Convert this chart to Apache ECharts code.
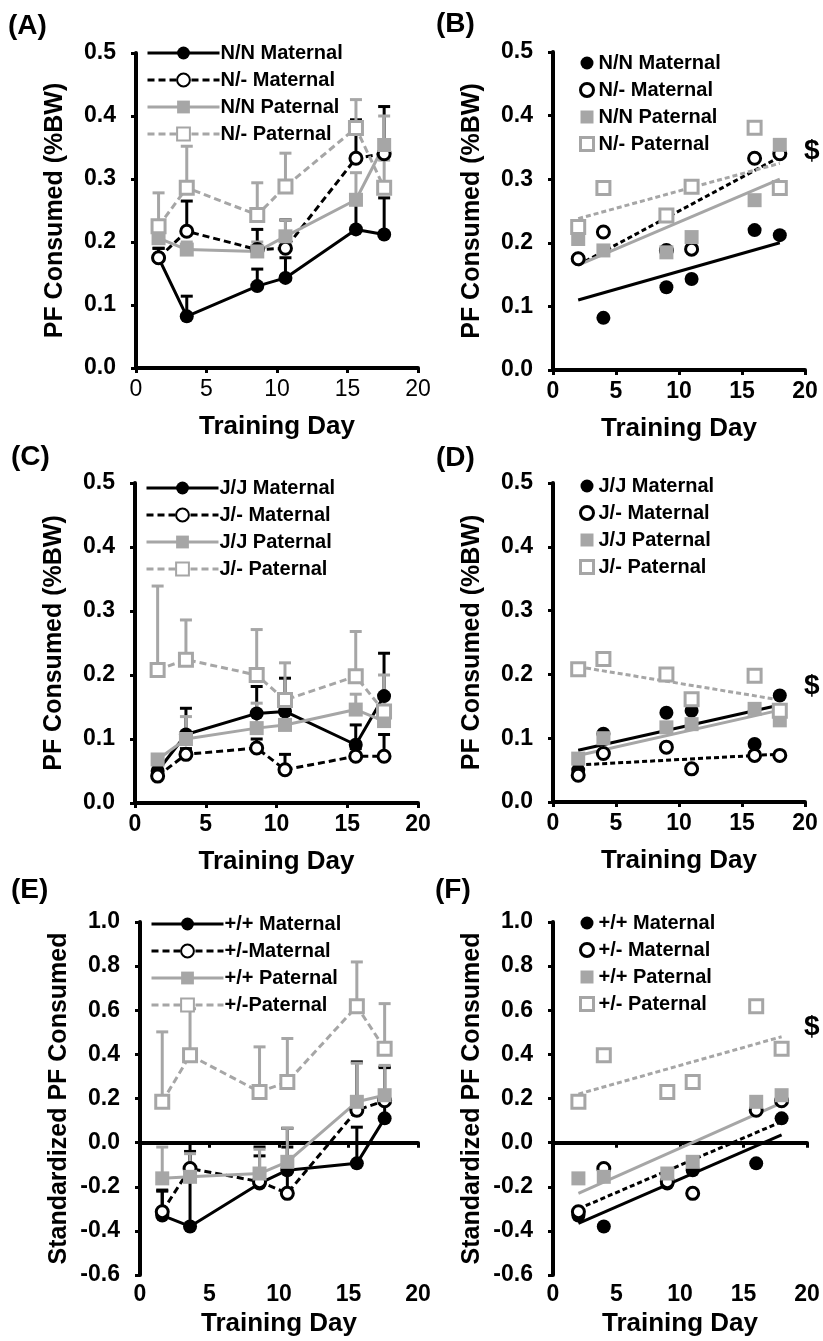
<!DOCTYPE html>
<html>
<head>
<meta charset="utf-8">
<script src="https://cdn.jsdelivr.net/npm/echarts@6/dist/echarts.min.js"></script>
<style>
	html, body { margin: 0; padding: 0; background: #fff; }
	#chart { width: 823px; height: 1341px; }
</style>
</head>
<body>
<div id="chart"></div>
<script type="text/javascript">
	// training days (left panels are plotted slightly offset, as in the original)
	var daysL = [1.6, 3.6, 8.6, 10.6, 15.6, 17.6];
	var daysR = [2, 4, 9, 11, 16, 18];
	var fitDays = [2, 18];

	// (A)/(B) N allele
	var nnMat = [0.175, 0.082, 0.13, 0.143, 0.22, 0.212];
	var nnMatErr = [0.19, 0.114, 0.157, 0.175, 0.26, 0.27];
	var nhMat = [0.175, 0.217, 0.188, 0.19, 0.333, 0.34];
	var nhMatErr = [0.19, 0.265, 0.22, 0.235, 0.394, 0.415];
	var nnPat = [0.206, 0.188, 0.185, 0.209, 0.267, 0.354];
	var nnPatErr = [0.23, 0.2, 0.2, 0.235, 0.31, 0.4];
	var nhPat = [0.225, 0.286, 0.243, 0.288, 0.381, 0.286];
	var nhPatErr = [0.278, 0.352, 0.294, 0.341, 0.426, 0.33];
	var nnMatFit = [0.11, 0.2];
	var nhMatFit = [0.165, 0.335];
	var nnPatFit = [0.165, 0.3];
	var nhPatFit = [0.238, 0.325];

	// (C)/(D) J allele
	var jjMat = [0.05, 0.107, 0.14, 0.143, 0.091, 0.167];
	var jjMatErr = [0.06, 0.148, 0.182, 0.195, 0.122, 0.234];
	var jhMat = [0.042, 0.076, 0.086, 0.052, 0.073, 0.073];
	var jhMatErr = [0.05, 0.085, 0.1, 0.076, 0.085, 0.107];
	var jjPat = [0.068, 0.1, 0.117, 0.122, 0.146, 0.128];
	var jjPatErr = [0.075, 0.135, 0.156, 0.159, 0.17, 0.17];
	var jhPat = [0.208, 0.224, 0.2, 0.161, 0.198, 0.143];
	var jhPatErr = [0.339, 0.286, 0.271, 0.219, 0.268, 0.2];
	var jjMatFit = [0.081, 0.152];
	var jhMatFit = [0.058, 0.075];
	var jjPatFit = [0.073, 0.144];
	var jhPatFit = [0.212, 0.16];

	// (E)/(F) standardized
	var wwMat = [-0.33, -0.38, -0.185, -0.125, -0.094, 0.11];
	var wwMatErr = [-0.22, 0.0, -0.06, -0.02, 0.07, 0.34];
	var whMat = [-0.313, -0.117, -0.177, -0.23, 0.147, 0.19];
	var whMatErr = [-0.215, -0.04, -0.02, 0.065, 0.366, 0.343];
	var wwPat = [-0.162, -0.155, -0.14, -0.087, 0.185, 0.215];
	var wwPatErr = [-0.02, -0.05, -0.03, 0.065, 0.36, 0.35];
	var whPat = [0.185, 0.396, 0.23, 0.275, 0.618, 0.426];
	var whPatErr = [0.502, 0.607, 0.434, 0.472, 0.819, 0.63];
	var wwMatFit = [-0.366, 0.035];
	var whMatFit = [-0.3, 0.095];
	var wwPatFit = [-0.23, 0.18];
	var whPatFit = [0.22, 0.48];

	var FONT = 'Liberation Sans';
	var BLACK = '#000';
	var GREY = '#a6a6a6';
	var DASH = [7, 4];

	// marker styles: filled circle, open circle, filled square, open square
	var marks = [
		{symbol: 'circle', size: 14, fill: BLACK, stroke: BLACK, dash: 'solid', color: BLACK},
		{symbol: 'circle', size: 12, fill: '#fff', stroke: BLACK, dash: DASH, color: BLACK},
		{symbol: 'rect', size: 14, fill: GREY, stroke: GREY, dash: 'solid', color: GREY},
		{symbol: 'rect', size: 13, fill: '#fff', stroke: GREY, dash: DASH, color: GREY}
	];

	function pairs(xs, ys) {
		return xs.map(function(x, i){ return [x, ys[i]]; });
	}

	function errSeries(gi, xs, ys, tops, color) {
		return {
			type: 'custom',
			xAxisIndex: gi, yAxisIndex: gi,
			z: 1,
			silent: true,
			data: xs.map(function(x, i){ return [x, ys[i], tops[i]]; }),
			encode: {x: 0, y: [1, 2]},
			renderItem: function(params, api) {
				var p0 = api.coord([api.value(0), api.value(1)]);
				var p1 = api.coord([api.value(0), api.value(2)]);
				return {
					type: 'group',
					children: [
						{type: 'line', shape: {x1: p0[0], y1: p0[1], x2: p1[0], y2: p1[1]}, style: {stroke: color, lineWidth: 3}},
						{type: 'line', shape: {x1: p1[0] - 6, y1: p1[1], x2: p1[0] + 6, y2: p1[1]}, style: {stroke: color, lineWidth: 3}}
					]
				};
			}
		};
	}

	function lineSeries(name, gi, xs, ys, m) {
		return {
			name: name, type: 'line',
			xAxisIndex: gi, yAxisIndex: gi,
			z: 3,
			data: pairs(xs, ys),
			symbol: m.symbol, symbolSize: m.size,
			lineStyle: {color: m.color, width: 3, type: m.dash},
			itemStyle: {color: m.fill, borderColor: m.stroke, borderWidth: m.fill === '#fff' ? 3 : 0},
			animation: false
		};
	}

	function scatterSeries(name, gi, xs, ys, m) {
		return {
			name: name, type: 'scatter',
			xAxisIndex: gi, yAxisIndex: gi,
			z: 3,
			data: pairs(xs, ys),
			symbol: m.symbol, symbolSize: m.size,
			itemStyle: {color: m.fill, borderColor: m.stroke, borderWidth: m.fill === '#fff' ? 3 : 0, opacity: 1},
			animation: false
		};
	}

	function fitSeries(gi, ys, m) {
		return {
			type: 'line',
			xAxisIndex: gi, yAxisIndex: gi,
			z: 2,
			silent: true,
			data: pairs(fitDays, ys),
			showSymbol: false,
			lineStyle: {color: m.color, width: 3, type: m.dash === 'solid' ? 'solid' : [5, 3]},
			animation: false
		};
	}

	var grids = [
		{left: 136, top: 53, width: 282, height: 315},
		{left: 553, top: 52, width: 252, height: 318},
		{left: 135, top: 483, width: 283, height: 320},
		{left: 553, top: 483, width: 252, height: 319},
		{left: 140, top: 922, width: 278, height: 353},
		{left: 553, top: 922, width: 254, height: 353}
	];

	var xAxes = [];
	var yAxes = [];
	grids.forEach(function(g, i){
		var std = i >= 4;
		xAxes.push({
			type: 'value', gridIndex: i, min: 0, max: 20, interval: 5,
			name: 'Training Day', nameLocation: 'middle', nameGap: std ? 36 : 46,
			nameTextStyle: {fontFamily: FONT, fontWeight: 'bold', fontSize: 26, color: BLACK},
			axisLine: {show: !std, onZero: false, lineStyle: {color: BLACK, width: 4}},
			axisTick: {show: !std, length: 5, lineStyle: {color: BLACK, width: 3}},
			axisLabel: {fontFamily: FONT, fontWeight: i === 0 ? 'normal' : 'bold', fontSize: 23, color: BLACK, margin: std ? 8 : 10},
			splitLine: {show: false}
		});
		yAxes.push({
			type: 'value', gridIndex: i,
			min: std ? -0.6 : 0, max: std ? 1.0 : 0.5, interval: std ? 0.2 : 0.1,
			name: std ? 'Standardized PF Consumed' : 'PF Consumed (%BW)',
			nameLocation: 'middle', nameGap: 68,
			nameTextStyle: {fontFamily: FONT, fontWeight: 'bold', fontSize: 25, color: BLACK},
			axisLine: {show: true, onZero: false, lineStyle: {color: BLACK, width: 4}},
			axisTick: {show: true, length: 5, lineStyle: {color: BLACK, width: 3}},
			axisLabel: {fontFamily: FONT, fontWeight: 'bold', fontSize: 23, color: BLACK, margin: 20,
				formatter: function(v){ return v.toFixed(1); }},
			splitLine: {show: false}
		});
	});
	// zero lines for (E) and (F)
	[4, 5].forEach(function(gi){
		xAxes.push({
			type: 'value', gridIndex: gi, min: 0, max: 20, interval: 5, position: 'top',
			axisLine: {show: true, onZero: true, lineStyle: {color: BLACK, width: 4}},
			axisTick: {show: true, inside: true, length: 5, lineStyle: {color: BLACK, width: 3}},
			axisLabel: {show: false},
			splitLine: {show: false}
		});
	});

	var groups = [
		{left: 0, right: 1, labels: ['N/N Maternal', 'N/- Maternal', 'N/N Paternal', 'N/- Paternal'],
			means: [nnMat, nhMat, nnPat, nhPat], errs: [nnMatErr, nhMatErr, nnPatErr, nhPatErr],
			fits: [nnMatFit, nhMatFit, nnPatFit, nhPatFit], lTop: 38, rTop: 48},
		{left: 2, right: 3, labels: ['J/J Maternal', 'J/- Maternal', 'J/J Paternal', 'J/- Paternal'],
			means: [jjMat, jhMat, jjPat, jhPat], errs: [jjMatErr, jhMatErr, jjPatErr, jhPatErr],
			fits: [jjMatFit, jhMatFit, jjPatFit, jhPatFit], lTop: 473, rTop: 471},
		{left: 4, right: 5, labels: ['+/+ Maternal', '+/-Maternal', '+/+ Paternal', '+/-Paternal'],
			means: [wwMat, whMat, wwPat, whPat], errs: [wwMatErr, whMatErr, wwPatErr, whPatErr],
			fits: [wwMatFit, whMatFit, wwPatFit, whPatFit], lTop: 909, rTop: 908}
	];
	var rightLabels = [
		['N/N Maternal', 'N/- Maternal', 'N/N Paternal', 'N/- Paternal'],
		['J/J Maternal', 'J/- Maternal', 'J/J Paternal', 'J/- Paternal'],
		['+/+ Maternal', '+/- Maternal', '+/+ Paternal', '+/- Paternal']
	];

	var series = [];
	var legends = [];
	groups.forEach(function(grp, k){
		var lNames = [], rNames = [];
		grp.means.forEach(function(ys, j){
			series.push(errSeries(grp.left, daysL, ys, grp.errs[j], marks[j].color));
		});
		grp.means.forEach(function(ys, j){
			var ln = grp.left + '::' + grp.labels[j];
			var rn = grp.right + '::' + rightLabels[k][j];
			lNames.push(ln);
			rNames.push({name: rn, itemStyle: {borderWidth: marks[j].fill === '#fff' ? 3 : 0}});
			series.push(lineSeries(ln, grp.left, daysL, ys, marks[j]));
			series.push(fitSeries(grp.right, grp.fits[j], marks[j]));
			series.push(scatterSeries(rn, grp.right, daysR, ys, marks[j]));
		});
		var lg = grids[grp.left], rg = grids[grp.right];
		var fmt = function(name){ return name.split('::')[1]; };
		legends.push({
			data: lNames, orient: 'vertical', left: lg.left + 5, top: grp.lTop,
			itemWidth: 72, itemHeight: 16, itemGap: 7, selectedMode: false,
			formatter: fmt,
			lineStyle: {width: 3},
			textStyle: {fontFamily: FONT, fontWeight: 'bold', fontSize: 20, color: BLACK, padding: [0, 0, 0, -4]}
		});
		legends.push({
			data: rNames, orient: 'vertical', left: rg.left + 21, top: grp.rTop,
			itemWidth: 13, itemHeight: 13, itemGap: 7, selectedMode: false,
			formatter: fmt,
			textStyle: {fontFamily: FONT, fontWeight: 'bold', fontSize: 20, color: BLACK}
		});
	});

	function label(text, x, y, size) {
		return {type: 'text', left: x, top: y, silent: true,
			style: {text: text, fontFamily: FONT, fontWeight: 'bold', fontSize: size, fill: BLACK}};
	}

	var option = {
		backgroundColor: '#fff',
		animation: false,
		grid: grids,
		xAxis: xAxes,
		yAxis: yAxes,
		legend: legends,
		series: series,
		graphic: [
			label('(A)', 8, 12, 28),
			label('(B)', 436, 10, 28),
			label('(C)', 11, 443, 28),
			label('(D)', 436, 444, 28),
			label('(E)', 11, 876, 28),
			label('(F)', 435, 876, 28),
			label('$', 804, 137, 28),
			label('$', 804, 672, 28),
			label('$', 804, 1013, 28)
		]
	};

	var chart = echarts.init(document.getElementById('chart'));
	chart.setOption(option);
</script>
</body>
</html>
